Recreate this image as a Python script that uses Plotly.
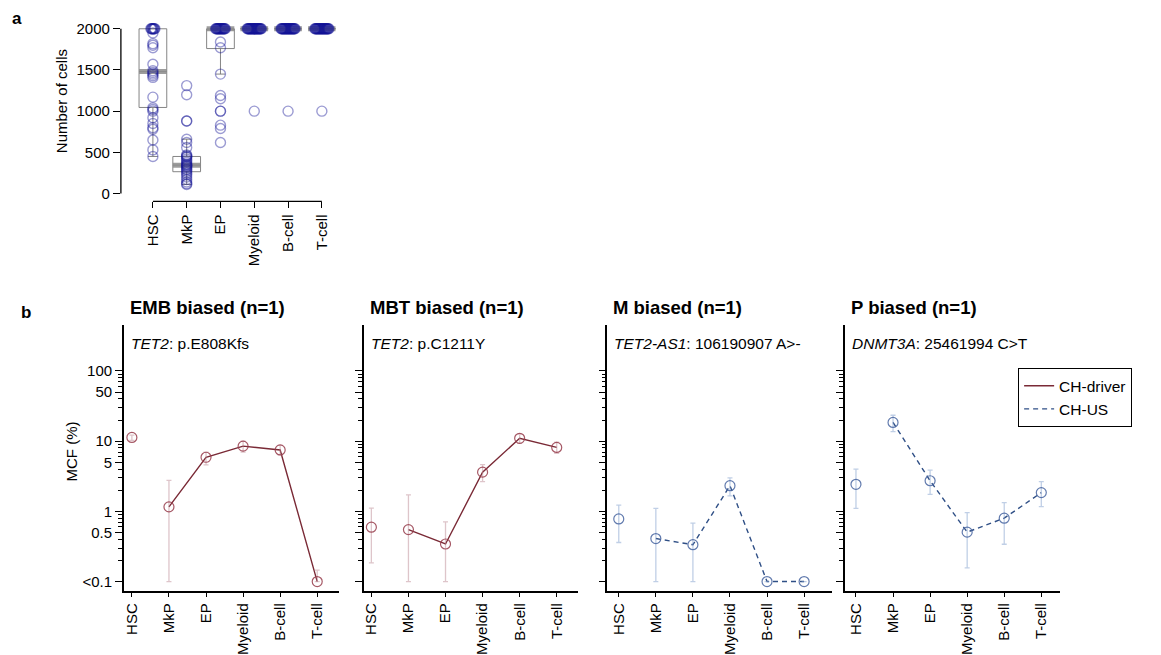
import numpy as np
import plotly.graph_objects as go

W, H = 1161, 655
FONT = "Arial, Liberation Sans, sans-serif"

cell_types = ["HSC", "MkP", "EP", "Myeloid", "B-cell", "T-cell"]

# ---- panel a: number of cells per sample and cell type ----
cells_hsc = [2000] * 8 + [1950, 1820, 1800, 1770, 1570, 1490, 1470, 1450, 1430,
                          1410, 1170, 1040, 1020, 1000, 920, 850, 800, 780, 650, 530, 450]
cells_mkp = [1310, 1200, 880, 880, 660, 620, 560, 470, 460, 450, 440, 420, 400, 380,
             360, 350, 340, 330, 320, 300, 290, 270, 250, 230, 200, 170, 140, 120, 110]
cells_ep = [2000] * 19 + [1840, 1770, 1450, 1190, 1150, 1000, 1000, 830, 790, 620]
cells_myeloid = [2000] * 28 + [1000]
cells_bcell = [2000] * 28 + [1000]
cells_tcell = [2000] * 28 + [1000]

box_q1 = [1045, 265, 1760, 2000, 2000, 2000]
box_median = [1480, 345, 2000, 2000, 2000, 2000]
box_q3 = [2000, 450, 2000, 2000, 2000, 2000]
box_lower = [450, 110, 1450, 2000, 2000, 2000]
box_upper = [2000, 660, 2000, 2000, 2000, 2000]

# ---- panel b: mutant cell fraction (%) per clone ----
panel_titles = ["EMB biased (n=1)", "MBT biased (n=1)", "M biased (n=1)", "P biased (n=1)"]
panel_genes = ["TET2", "TET2", "TET2-AS1", "DNMT3A"]
panel_variants = ["p.E808Kfs", "p.C1211Y", "106190907 A&gt;-", "25461994 C&gt;T"]
panel_class = ["CH-driver", "CH-driver", "CH-US", "CH-US"]

mcf_emb = [11.3, 1.16, 5.9, 8.5, 7.5, 0.1]
mcf_emb_hi = [12.2, 2.76, 7.0, 10.0, 8.7, 0.146]
mcf_emb_lo = [10.3, 0.1, 4.6, 7.0, 6.4, 0.1]

mcf_mbt = [0.595, 0.55, 0.343, 3.62, 11.0, 8.15]
mcf_mbt_hi = [1.11, 1.72, 0.71, 4.64, 12.6, 9.7]
mcf_mbt_lo = [0.185, 0.1, 0.1, 2.65, 9.3, 6.7]

mcf_m = [0.78, 0.41, 0.335, 2.32, 0.1, 0.1]
mcf_m_hi = [1.23, 1.10, 0.68, 3.0, 0.1, 0.1]
mcf_m_lo = [0.36, 0.1, 0.1, 1.66, 0.1, 0.1]

mcf_p = [2.43, 18.5, 2.73, 0.506, 0.80, 1.85]
mcf_p_hi = [3.99, 23.4, 3.86, 0.96, 1.33, 2.65]
mcf_p_lo = [1.10, 13.7, 1.75, 0.157, 0.34, 1.17]

mcf_values = [mcf_emb, mcf_mbt, mcf_m, mcf_p]
mcf_hi = [mcf_emb_hi, mcf_mbt_hi, mcf_m_hi, mcf_p_hi]
mcf_lo = [mcf_emb_lo, mcf_mbt_lo, mcf_m_lo, mcf_p_lo]

mcf_tickvals = [0.1, 0.5, 1, 5, 10, 50, 100]
mcf_ticktext = ["&lt;0.1", "0.5", "1", "5", "10", "50", "100"]
mcf_minor = [0.2, 0.3, 0.4, 0.6, 0.7, 0.8, 0.9, 2, 3, 4, 6, 7, 8, 9,
             20, 30, 40, 60, 70, 80, 90]

class_style = {
    "CH-driver": dict(line="#7a2a36", dash="solid", marker="rgba(150,60,75,0.85)",
                      err="rgba(190,140,150,0.5)"),
    "CH-US": dict(line="#2f4f86", dash="5px,4px", marker="rgba(70,100,160,0.85)",
                  err="rgba(130,160,205,0.5)"),
}

TICK_SIZE = 15


def px_x(p):
    return p / W


def px_y(p):
    return 1 - p / H


fig = go.Figure()

# ---------------- panel a ----------------
a_dom_x = [px_x(120), px_x(335)]
a_dom_y = [px_y(201), px_y(20)]

for i, ct in enumerate(cell_types):
    fig.add_trace(go.Box(
        x=[i], q1=[box_q1[i]], median=[box_median[i]], q3=[box_q3[i]],
        lowerfence=[box_lower[i]], upperfence=[box_upper[i]],
        width=0.82, whiskerwidth=0.35, boxpoints=False,
        fillcolor="rgba(0,0,0,0)",
        line=dict(color="rgba(120,120,120,0.9)", width=1),
        showlegend=False, xaxis="x", yaxis="y", hoverinfo="skip",
    ))
    # thick median band
    fig.add_trace(go.Scatter(
        x=[i - 0.41, i + 0.41], y=[box_median[i]] * 2, mode="lines",
        line=dict(color="rgba(140,140,140,0.85)", width=5),
        showlegend=False, xaxis="x", yaxis="y", hoverinfo="skip",
    ))

cell_lists = [cells_hsc, cells_mkp, cells_ep, cells_myeloid, cells_bcell, cells_tcell]
for i, vals in enumerate(cell_lists):
    vals = np.asarray(vals, dtype=float)
    xs = np.full(len(vals), float(i))
    # spread repeated values sideways so the stack stays readable
    for v in np.unique(vals):
        idx = np.where(vals == v)[0]
        if len(idx) > 3:
            w = min(0.21, 0.0075 * len(idx))
            xs[idx] = i + np.linspace(-w, w, len(idx))
    fig.add_trace(go.Scatter(
        x=xs, y=vals, mode="markers",
        marker=dict(symbol="circle-open", size=10, color="rgba(20,20,150,0.42)",
                    line=dict(width=1.4)),
        showlegend=False, xaxis="x", yaxis="y", hoverinfo="skip",
    ))

axis_font = dict(family=FONT, size=TICK_SIZE, color="black")

fig.update_layout(
    xaxis=dict(domain=a_dom_x, range=[-0.947, 5.41], anchor="y",
               tickvals=list(range(6)), ticktext=cell_types, tickangle=-90,
               ticks="outside", ticklen=6, tickwidth=1.3, tickcolor="black",
               showline=False, showgrid=False, zeroline=False, tickfont=axis_font),
    yaxis=dict(domain=a_dom_y, range=[-96, 2084], anchor="x",
               tickvals=[0, 500, 1000, 1500, 2000],
               ticks="outside", ticklen=7, tickwidth=1.3, tickcolor="black",
               showline=False, showgrid=False, zeroline=False, tickfont=axis_font),
)

shapes = [
    dict(type="line", xref="x", yref="paper", x0=0, x1=5, y0=a_dom_y[0], y1=a_dom_y[0],
         line=dict(color="black", width=1.3)),
    dict(type="line", xref="paper", yref="y", x0=a_dom_x[0], x1=a_dom_x[0], y0=0, y1=2000,
         line=dict(color="black", width=1.3)),
]

# ---------------- panel b ----------------
b_axis_left = [123, 363, 607, 844.5]
b_axis_right = [338, 577, 832, 1060]
b_first_cat = [131, 370.7, 618.3, 855.7]
pitch = 37.1
b_dom_y = [px_y(594), px_y(325)]
y_range = [-1.141, 2.662]

annotations = []
legend_shown = set()
for k in range(4):
    n = k + 2
    xa, ya = f"x{n}", f"y{n}"
    style = class_style[panel_class[k]]
    y = np.array(mcf_values[k])
    hi = np.array(mcf_hi[k])
    lo = np.array(mcf_lo[k])
    xs = np.arange(6)

    # connecting line across the differentiated compartments
    show = panel_class[k] not in legend_shown
    legend_shown.add(panel_class[k])
    fig.add_trace(go.Scatter(
        x=xs[1:], y=y[1:], mode="lines", name=panel_class[k],
        line=dict(color=style["line"], width=1.4, dash=style["dash"]),
        showlegend=show, legendrank=1 if panel_class[k] == "CH-driver" else 2,
        xaxis=xa, yaxis=ya, hoverinfo="skip",
    ))
    fig.add_trace(go.Scatter(
        x=xs, y=y, mode="markers",
        marker=dict(symbol="circle-open", size=10, color=style["marker"],
                    line=dict(width=1.2)),
        error_y=dict(type="data", symmetric=False, array=hi - y, arrayminus=y - lo,
                     color=style["err"], thickness=1.3, width=2.5),
        showlegend=False, xaxis=xa, yaxis=ya, hoverinfo="skip",
    ))

    left = b_axis_left[k]
    xr = [-(b_first_cat[k] - left) / pitch, (b_axis_right[k] - b_first_cat[k]) / pitch]
    fig.layout[f"xaxis{n}"] = dict(
        domain=[px_x(left), px_x(b_axis_right[k])], range=xr, anchor=ya,
        tickvals=list(range(6)), ticktext=cell_types, tickangle=-90,
        ticks="outside", ticklen=4, tickwidth=1.3, tickcolor="black",
        showline=True, linecolor="black", linewidth=1.6,
        showgrid=False, zeroline=False, tickfont=axis_font)
    fig.layout[f"yaxis{n}"] = dict(
        domain=b_dom_y, type="log", range=y_range, anchor=xa,
        tickvals=mcf_tickvals, ticktext=mcf_ticktext, showticklabels=(k == 0),
        ticks="outside", ticklen=7, tickwidth=1.3, tickcolor="black",
        minor=dict(tickvals=mcf_minor, ticks="outside", ticklen=4, tickwidth=1,
                   tickcolor="black", showgrid=False),
        showline=True, linecolor="black", linewidth=1.6,
        showgrid=False, zeroline=False, tickfont=axis_font)

    annotations.append(dict(
        x=px_x(left + 4), y=px_y(308), xref="paper", yref="paper",
        xanchor="left", yanchor="middle", showarrow=False,
        text=f"<b>{panel_titles[k]}</b>",
        font=dict(family=FONT, size=18.5, color="black")))
    annotations.append(dict(
        x=px_x(left + 5), y=px_y(344), xref="paper", yref="paper",
        xanchor="left", yanchor="middle", showarrow=False,
        text=f"<i>{panel_genes[k]}</i>: {panel_variants[k]}",
        font=dict(family=FONT, size=15.5, color="black")))

annotations += [
    dict(x=px_x(16.5), y=px_y(17), xref="paper", yref="paper", showarrow=False,
         xanchor="center", yanchor="middle",
         text="<b>a</b>", font=dict(family=FONT, size=17, color="black")),
    dict(x=px_x(25), y=px_y(313), xref="paper", yref="paper", showarrow=False,
         xanchor="center", yanchor="middle",
         text="<b>b</b>", font=dict(family=FONT, size=17, color="black")),
    dict(x=px_x(60), y=px_y(100), xref="paper", yref="paper", showarrow=False,
         xanchor="center", yanchor="middle",
         text="Number of cells", textangle=-90,
         font=dict(family=FONT, size=TICK_SIZE, color="black")),
    dict(x=px_x(71), y=px_y(453), xref="paper", yref="paper", showarrow=False,
         xanchor="center", yanchor="middle",
         text="MCF (%)", textangle=-90,
         font=dict(family=FONT, size=TICK_SIZE, color="black")),
]

fig.update_layout(
    width=W, height=H, autosize=False,
    margin=dict(l=0, r=0, t=0, b=0),
    paper_bgcolor="white", plot_bgcolor="white",
    font=dict(family=FONT, size=TICK_SIZE, color="black"),
    shapes=shapes, annotations=annotations,
    legend=dict(x=px_x(1018), y=px_y(369), xanchor="left", yanchor="top",
                bordercolor="black", borderwidth=1, bgcolor="white",
                font=dict(family=FONT, size=15.5, color="black"),
                itemwidth=30, tracegroupgap=0, entrywidth=110),
)

fig.write_html("out.html")
